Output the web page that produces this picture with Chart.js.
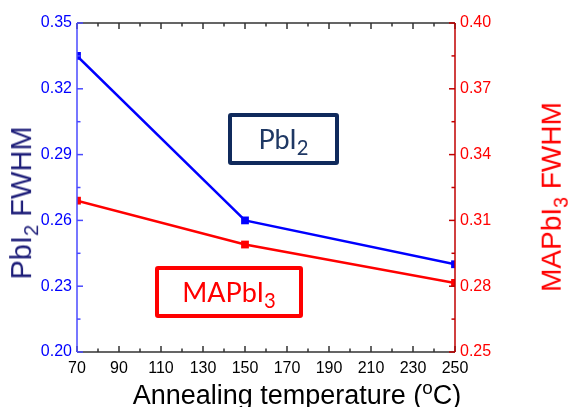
<!DOCTYPE html>
<html>
<head>
<meta charset="utf-8">
<script src="https://cdn.jsdelivr.net/npm/chart.js@4"></script>
<style>
html, body { margin: 0; padding: 0; background: #fff; }
#wrap { position: relative; width: 570px; height: 407px; overflow: hidden; }
#chart { position: absolute; left: 0; top: 0; }
.title { position: absolute; white-space: nowrap; font-family: "Liberation Sans", Arial, sans-serif; transform: translate(-50%, -50%); }
.title sub, .title sup { font-size: 70%; }
.rot { transform: translate(-50%, -50%) rotate(-90deg); }
.box { position: absolute; box-sizing: border-box; border-radius: 3px; font-family: Lato, "Open Sans", sans-serif; font-size: 27px; text-align: center; }
.box sub { font-size: 75%; vertical-align: -6px; line-height: 0; }
</style>
</head>
<body>
<div id="wrap">
  <canvas id="chart" width="570" height="407"></canvas>
  <div class="title rot" style="left:24px; top:203px; font-size:29px; color:#1c1c78;">PbI<sub>2</sub> FWHM</div>
  <div class="title rot" style="left:554px; top:197px; font-size:28px; color:#ff0000;">MAPbI<sub>3</sub> FWHM</div>
  <div class="title" style="left:297px; top:394px; font-size:27px; color:#000;">Annealing temperature (<sup>o</sup>C)</div>
  <div class="box" style="left:228px; top:113px; width:111px; height:52px; line-height:44px; border:4px solid #102a5c; color:#1f3864;">PbI<sub>2</sub></div>
  <div class="box" style="left:155px; top:266px; width:148px; height:52px; line-height:44px; border:4px solid #ff0000; color:#ff0000;">MAPbI<sub>3</sub></div>
</div>
<script>
const temps = [70, 150, 250];
const pbi2Fwhm = [0.335, 0.260, 0.240];
const mapbi3Fwhm = [0.319, 0.299, 0.2815];
const xMin = 70, xMax = 250, xStep = 10;
const leftMin = 0.20, leftMax = 0.35;
const rightMin = 0.25, rightMax = 0.40;
const yStep = 0.015;

const tickFont = { family: "'Liberation Sans', Arial, sans-serif", size: 16 };

// inward tick marks and coloured frame, positions taken from the scales
const framePlugin = {
  id: 'frame',
  afterDatasetsDraw(chart) {
    const { ctx, chartArea: a, scales } = chart;
    ctx.save();
    ctx.lineWidth = 1.5;

    ctx.strokeStyle = '#333333';
    scales.x.ticks.forEach((t, i) => {
      const x = scales.x.getPixelForValue(t.value);
      const len = (t.value - xMin) % 20 === 0 ? 6 : 3.5;
      ctx.beginPath();
      ctx.moveTo(x, a.top); ctx.lineTo(x, a.top + len);
      ctx.moveTo(x, a.bottom); ctx.lineTo(x, a.bottom - len);
      ctx.stroke();
    });
    ctx.beginPath();
    ctx.moveTo(a.left, a.top); ctx.lineTo(a.right, a.top);
    ctx.moveTo(a.left, a.bottom); ctx.lineTo(a.right, a.bottom);
    ctx.stroke();

    ctx.strokeStyle = '#4a4aff';
    scales.yL.ticks.forEach((t, i) => {
      const y = scales.yL.getPixelForValue(t.value);
      const len = i % 2 === 0 ? 6 : 3.5;
      ctx.beginPath(); ctx.moveTo(a.left, y); ctx.lineTo(a.left + len, y); ctx.stroke();
    });
    ctx.beginPath(); ctx.moveTo(a.left, a.top); ctx.lineTo(a.left, a.bottom); ctx.stroke();

    ctx.strokeStyle = '#c00000';
    scales.yR.ticks.forEach((t, i) => {
      const y = scales.yR.getPixelForValue(t.value);
      const len = i % 2 === 0 ? 6 : 3.5;
      ctx.beginPath(); ctx.moveTo(a.right, y); ctx.lineTo(a.right - len, y); ctx.stroke();
    });
    ctx.beginPath(); ctx.moveTo(a.right, a.top); ctx.lineTo(a.right, a.bottom); ctx.stroke();
    ctx.restore();
  }
};

new Chart(document.getElementById('chart').getContext('2d'), {
  type: 'line',
  data: {
    datasets: [
      {
        label: 'PbI2',
        data: temps.map((t, i) => ({ x: t, y: pbi2Fwhm[i] })),
        yAxisID: 'yL',
        borderColor: '#0000ff',
        backgroundColor: '#0000ff',
        borderWidth: 2.5,
        pointStyle: 'rect',
        pointRadius: 5.5,
        pointBorderWidth: 0,
        clip: 0
      },
      {
        label: 'MAPbI3',
        data: temps.map((t, i) => ({ x: t, y: mapbi3Fwhm[i] })),
        yAxisID: 'yR',
        borderColor: '#ff0000',
        backgroundColor: '#ff0000',
        borderWidth: 2.5,
        pointStyle: 'rect',
        pointRadius: 5.5,
        pointBorderWidth: 0,
        clip: 0
      }
    ]
  },
  options: {
    responsive: false,
    animation: false,
    layout: { padding: { top: 23, left: 0, right: 0, bottom: 0 } },
    plugins: { legend: { display: false }, tooltip: { enabled: false } },
    scales: {
      x: {
        type: 'linear',
        min: xMin, max: xMax,
        grid: { display: false, drawTicks: false },
        border: { display: false },
        ticks: {
          stepSize: xStep,
          padding: 7,
          color: '#000',
          font: tickFont,
          maxRotation: 0,
          autoSkip: false,
          callback: v => ((v - xMin) % 20 === 0 ? v : '')
        },
        afterFit: s => { s.height = 55; }
      },
      yL: {
        type: 'linear',
        position: 'left',
        min: leftMin, max: leftMax,
        grid: { display: false, drawTicks: false },
        border: { display: false },
        ticks: {
          stepSize: yStep,
          padding: 5,
          color: '#0000ff',
          font: tickFont,
          autoSkip: false,
          callback: (v, i) => (i % 2 === 0 ? v.toFixed(2) : '')
        },
        afterFit: s => { s.width = 77; }
      },
      yR: {
        type: 'linear',
        position: 'right',
        min: rightMin, max: rightMax,
        grid: { display: false, drawTicks: false },
        border: { display: false },
        ticks: {
          stepSize: yStep,
          padding: 5,
          color: '#ff0000',
          font: tickFont,
          autoSkip: false,
          callback: (v, i) => (i % 2 === 0 ? v.toFixed(2) : '')
        },
        afterFit: s => { s.width = 115; }
      }
    }
  },
  plugins: [framePlugin]
});
</script>
</body>
</html>
